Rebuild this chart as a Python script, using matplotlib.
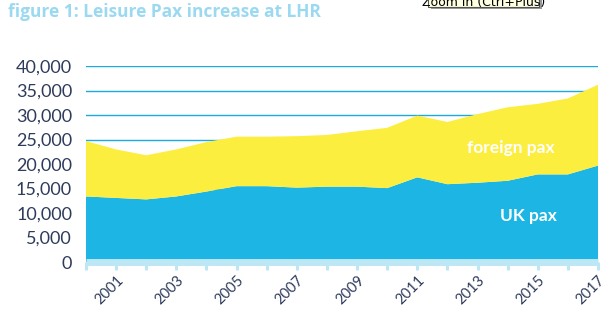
import matplotlib
matplotlib.use("Agg")
import matplotlib.pyplot as plt
from matplotlib.patches import Rectangle
from matplotlib.ticker import FuncFormatter

# ----------------------------------------------------------------------------------------------------------------------
# Datos (pasajeros de ocio, miles)

years = list(range(2000, 2018))
uk_pax = [13400, 13100, 12800, 13400, 14400, 15500, 15500, 15200, 15400, 15400,
          15100, 17300, 15900, 16200, 16600, 17900, 17900, 19700]
total_pax = [24700, 23000, 21800, 23000, 24500, 25600, 25600, 25700, 25950, 26700,
             27400, 29900, 28600, 30200, 31600, 32300, 33400, 36200]
foreign_pax = [t - u for t, u in zip(total_pax, uk_pax)]

y_ticks = [0, 5000, 10000, 15000, 20000, 25000, 30000, 35000, 40000]
x_labels = [y for y in years if y % 2 == 1]

title = "figure 1: Leisure Pax increase at LHR"

# ----------------------------------------------------------------------------------------------------------------------

navy = "#2e3b5b"
blue = "#1cb5e4"
yellow = "#fcee3f"
light = "#bde7f4"

plt.rcParams["font.family"] = ["Lato", "DejaVu Sans"]

fig = plt.figure(figsize=(6.15, 3.24), dpi=100)
ax = fig.add_axes([0.1398, 0.191, 0.8326, 0.605])

ax.stackplot(years, uk_pax, foreign_pax, colors=[blue, yellow], linewidth=0, zorder=1)

ax.set_xlim(2000, 2017)
ax.set_ylim(0, 40000)
ax.set_yticks(y_ticks)
ax.yaxis.set_major_formatter(FuncFormatter(lambda v, p: f"{int(v):,}"))
ax.grid(axis="y", color="#1ba9df", linewidth=1.0, zorder=0)
ax.set_axisbelow(True)

ax.set_xticks(years)
ax.set_xticklabels([str(y) if y in x_labels else "" for y in years],
                   rotation=45, ha="right", rotation_mode="anchor")

for s in ["top", "right", "left"]:
    ax.spines[s].set_visible(False)
ax.spines["bottom"].set_color(light)
ax.spines["bottom"].set_linewidth(5)
ax.spines["bottom"].set_capstyle("butt")

ax.tick_params(axis="y", length=0, pad=10, labelsize=13, labelcolor=navy)
ax.tick_params(axis="x", length=6, width=2.2, color=light, pad=2,
               labelsize=10.5, labelcolor=navy)

ax.text(2014.1, 23300, "foreign pax", color="white", fontsize=12.5, fontweight="bold",
        ha="center", va="center")
ax.text(2014.7, 9500, "UK pax", color="white", fontsize=12.5, fontweight="bold",
        ha="center", va="center")

fig.text(0.013, 0.962, title, color="#9bd9f1", fontsize=12.5, fontweight="bold",
         ha="left", va="center", family=["Open Sans", "DejaVu Sans"])

# tooltip de la captura de pantalla
fig.patches.append(Rectangle((0.7, 0.972), 0.181, 0.04, transform=fig.transFigure,
                             facecolor="#9a9a9a", edgecolor="none", zorder=4))
fig.patches.append(Rectangle((0.696, 0.978), 0.181, 0.04, transform=fig.transFigure,
                             facecolor="#ffffe1", edgecolor="#555555", linewidth=0.8, zorder=5))
fig.text(0.786, 0.992, "Zoom in (Ctrl+Plus)", fontsize=9, color="black",
         ha="center", va="center", zorder=6, family=["DejaVu Sans"])

fig.savefig("out.png", dpi=100)
